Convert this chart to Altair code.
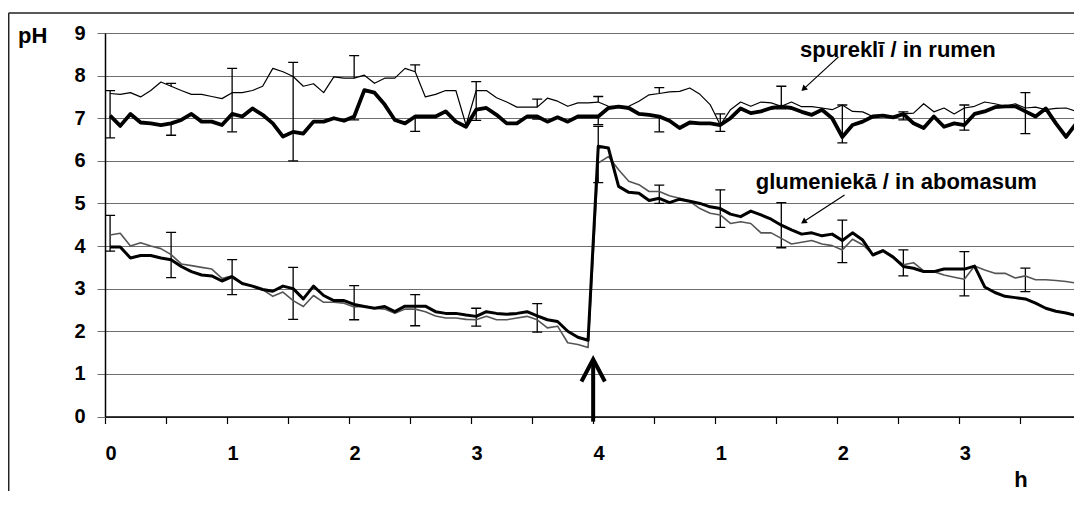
import altair as alt
import pandas as pd

# ---------------- data ----------------
x_tick_values = [k * 0.5 for k in range(17)]          # hours, ticks every 30 min
x_label_text = ["0", "1", "2", "3", "4", "1", "2", "3", "4"]
y_tick_values = list(range(10))
x_visible_max = 7.94                                    # the figure is cropped just before 8 h

# 96 samples (5-min categories) over 8 hours
rumen_thin = [
    7.58, 7.56, 7.60, 7.50, 7.65, 7.85, 7.75, 7.65, 7.56, 7.56, 7.51, 7.46,
    7.60, 7.60, 7.65, 7.75, 8.17, 8.09, 7.98, 7.75, 7.81, 7.60, 7.97, 7.94,
    7.94, 8.01, 7.82, 7.94, 7.94, 8.17, 8.09, 7.50, 7.56, 7.65, 7.65, 6.84,
    7.65, 7.65, 7.48, 7.38, 7.26, 7.26, 7.26, 7.47, 7.40, 7.28, 7.36, 7.36,
    7.38, 7.28, 7.27, 7.28, 7.40, 7.55, 7.58, 7.62, 7.63, 7.71, 7.56, 7.32,
    6.84, 7.20, 7.38, 7.28, 7.38, 7.36, 7.28, 7.38, 7.27, 7.27, 7.24, 7.20,
    7.31, 7.16, 7.15, 7.04, 7.08, 7.04, 7.10, 7.12, 7.34, 7.15, 7.24, 7.10,
    7.24, 7.28, 7.38, 7.34, 7.28, 7.34, 7.24, 7.26, 7.20, 7.23, 7.24, 7.16,
]
rumen_thick = [
    7.06, 6.82, 7.10, 6.90, 6.88, 6.84, 6.88, 6.96, 7.10, 6.92, 6.92, 6.84,
    7.10, 7.04, 7.23, 7.08, 6.88, 6.57, 6.68, 6.64, 6.92, 6.92, 7.00, 6.94,
    7.04, 7.66, 7.60, 7.32, 6.96, 6.88, 7.04, 7.04, 7.04, 7.16, 6.92, 6.80,
    7.20, 7.24, 7.08, 6.88, 6.88, 7.04, 7.04, 6.92, 7.02, 6.92, 7.04, 7.04,
    7.04, 7.24, 7.27, 7.24, 7.10, 7.08, 7.04, 6.94, 6.77, 6.90, 6.88, 6.88,
    6.84, 7.00, 7.23, 7.12, 7.16, 7.24, 7.27, 7.24, 7.15, 7.08, 7.20, 7.00,
    6.56, 6.84, 6.92, 7.04, 7.06, 7.02, 7.10, 6.88, 6.77, 7.04, 6.80, 6.88,
    6.84, 7.10, 7.16, 7.26, 7.28, 7.28, 7.16, 7.04, 7.23, 6.88, 6.56, 6.88,
]
abom_thin = [
    4.26, 4.30, 4.00, 4.08, 4.00, 3.94, 3.80, 3.58, 3.54, 3.50, 3.46, 3.24,
    3.30, 3.12, 3.06, 2.98, 2.82, 2.92, 2.72, 2.58, 2.84, 2.68, 2.68, 2.66,
    2.57, 2.59, 2.54, 2.52, 2.42, 2.52, 2.52, 2.46, 2.36, 2.31, 2.31, 2.28,
    2.27, 2.35, 2.27, 2.27, 2.31, 2.35, 2.27, 2.08, 2.12, 1.73, 1.69, 1.62,
    5.95, 6.10, 5.79, 5.52, 5.44, 5.28, 5.28, 5.18, 5.12, 5.05, 4.88, 4.77,
    4.73, 4.53, 4.57, 4.53, 4.31, 4.31, 4.18, 4.05, 4.09, 4.13, 4.05, 4.01,
    3.91, 4.16, 4.03, 3.81, 3.91, 3.75, 3.56, 3.61, 3.42, 3.40, 3.32, 3.27,
    3.22, 3.53, 3.44, 3.36, 3.36, 3.25, 3.30, 3.21, 3.21, 3.19, 3.17, 3.13,
]
abom_thick = [
    3.98, 3.98, 3.72, 3.78, 3.78, 3.72, 3.68, 3.52, 3.40, 3.32, 3.30, 3.18,
    3.28, 3.12, 3.06, 2.98, 2.94, 3.06, 3.00, 2.76, 3.06, 2.84, 2.72, 2.72,
    2.63, 2.58, 2.54, 2.58, 2.46, 2.59, 2.59, 2.59, 2.46, 2.42, 2.42, 2.38,
    2.35, 2.46, 2.42, 2.40, 2.42, 2.46, 2.36, 2.27, 2.23, 2.00, 1.86, 1.79,
    6.34, 6.30, 5.40, 5.26, 5.24, 5.07, 5.12, 5.02, 5.10, 5.05, 5.00, 4.92,
    4.88, 4.75, 4.69, 4.82, 4.73, 4.63, 4.49, 4.38, 4.28, 4.31, 4.24, 4.28,
    4.13, 4.31, 4.14, 3.79, 3.89, 3.74, 3.52, 3.48, 3.40, 3.40, 3.46, 3.46,
    3.46, 3.53, 3.04, 2.91, 2.82, 2.79, 2.76, 2.66, 2.54, 2.47, 2.43, 2.37,
]

# error bars every 30 min (sample index)
err_index = list(range(0, 96, 6))
rumen_err_hi = [7.65, 7.82, 8.17, 8.31, 8.47, 8.25, 7.86, 7.45, 7.51, 7.72, 7.10, 7.75, 7.31, 7.15, 7.31, 7.60]
rumen_err_lo = [6.54, 6.60, 6.68, 6.00, 6.96, 6.69, 6.95, 6.98, 6.85, 6.68, 6.69, 7.22, 6.42, 6.96, 6.72, 6.64]
rumen_err_joined = [1, 0, 1, 1, 0, 0, 1, 0, 0, 0, 1, 1, 1, 1, 1, 1]
abom_err_hi = [4.72, 4.32, 3.68, 3.50, 3.07, 2.86, 2.54, 2.65, 6.81, 5.43, 5.32, 5.02, 4.61, 3.91, 3.87, 3.48]
abom_err_lo = [3.88, 3.26, 2.86, 2.28, 2.27, 2.13, 2.12, 1.98, 5.49, 5.00, 4.44, 3.96, 3.61, 3.30, 2.83, 2.93]

# annotations (hours, pH)
label_rumen = "spureklī / in rumen"
label_abom = "glumeniekā / in abomasum"
label_rumen_pos = (6.496, 8.43)
label_abom_pos = (6.484, 5.34)
arrow_rumen = (6.01, 8.44, 5.73, 7.70)
arrow_abom = (6.06, 5.20, 5.73, 4.58)
event_time = 4.0
event_arrow_y = (-0.12, 1.32)
event_head_x = [3.904, 4.0, 4.096]
event_head_y = [0.82, 1.34, 0.82]

FONT = "Liberation Sans"

# ---------------- frames ----------------
t = [(i + 0.5) / 12 for i in range(96)]


def series_df(vals):
    return pd.DataFrame({"t": t, "v": vals})


err_rows = []
cap_rows = []


def add_err(hi, lo, joined, upper, lower):
    for k, i in enumerate(err_index):
        ti = t[i]
        if joined[k]:
            err_rows.append({"t": ti, "v": lo[k], "v2": hi[k]})
        else:
            err_rows.append({"t": ti, "v": upper[i], "v2": hi[k]})
            err_rows.append({"t": ti, "v": lo[k], "v2": lower[i]})
        cap_rows.append({"t": ti, "v": hi[k]})
        cap_rows.append({"t": ti, "v": lo[k]})


add_err(rumen_err_hi, rumen_err_lo, rumen_err_joined, rumen_thin, rumen_thick)
add_err(abom_err_hi, abom_err_lo, [1] * len(err_index), abom_thin, abom_thick)
err_df = pd.DataFrame(err_rows)
cap_df = pd.DataFrame(cap_rows)

label_expr = (
    "datum.value % 1 == 0 ? " + str(x_label_text).replace("'", '"') + "[round(datum.value)] : ''"
)

x_enc = alt.X(
    "t:Q",
    scale=alt.Scale(domain=[0, x_visible_max], nice=False, zero=False),
    axis=alt.Axis(
        values=x_tick_values, labelExpr=label_expr, title=None, grid=False,
        domainColor="black", domainWidth=1.5, tickColor="black", tickWidth=1.2,
        tickSize=7, labelFont=FONT, labelFontSize=20, labelFontWeight="bold",
        labelColor="black", labelPadding=20, labelOffset=5.5, labelFlush=False,
        labelOverlap=False,
    ),
)
y_enc = alt.Y(
    "v:Q",
    scale=alt.Scale(domain=[0, 9], nice=False, zero=True),
    axis=alt.Axis(
        values=y_tick_values, title=None, grid=True, gridColor="#6e6e6e",
        gridWidth=1, tickColor="#6e6e6e", tickSize=8, domainColor="black",
        domainWidth=1.5, labelFont=FONT, labelFontSize=20, labelFontWeight="bold",
        labelColor="black", labelPadding=12,
    ),
)

base_x = alt.X("t:Q")
base_y = alt.Y("v:Q")

layers = []

# error bars
layers.append(
    alt.Chart(err_df).mark_rule(color="black", strokeWidth=1.3, clip=True).encode(
        x=x_enc, y=y_enc, y2="v2:Q"
    )
)
layers.append(
    alt.Chart(cap_df).mark_point(
        shape="M-1,0L1,0", size=100, filled=False, color="black", strokeWidth=1.3, opacity=1, clip=True
    ).encode(x=base_x, y=base_y)
)

# lines
layers.append(
    alt.Chart(series_df(rumen_thin)).mark_line(color="black", strokeWidth=1.2, strokeJoin="round", clip=True)
    .encode(x=base_x, y=base_y)
)
layers.append(
    alt.Chart(series_df(abom_thin)).mark_line(color="#555555", strokeWidth=1.6, strokeJoin="round", clip=True)
    .encode(x=base_x, y=base_y)
)
layers.append(
    alt.Chart(series_df(rumen_thick)).mark_line(color="black", strokeWidth=3.8, strokeJoin="round", clip=True)
    .encode(x=base_x, y=base_y)
)
layers.append(
    alt.Chart(series_df(abom_thick)).mark_line(color="black", strokeWidth=3.0, strokeJoin="round", clip=True)
    .encode(x=base_x, y=base_y)
)

# annotation arrows with labels
arrow_df = pd.DataFrame(
    [
        {"t": arrow_rumen[0], "v": arrow_rumen[1], "t2": arrow_rumen[2], "v2": arrow_rumen[3], "ang": 227.6},
        {"t": arrow_abom[0], "v": arrow_abom[1], "t2": arrow_abom[2], "v2": arrow_abom[3], "ang": 237.0},
    ]
)
layers.append(
    alt.Chart(arrow_df).mark_rule(color="black", strokeWidth=1.2).encode(
        x=base_x, y=base_y, x2="t2:Q", y2="v2:Q"
    )
)
layers.append(
    alt.Chart(arrow_df).mark_point(shape="triangle", filled=True, color="black", size=45, opacity=1).encode(
        x=alt.X("t2:Q"), y=alt.Y("v2:Q"), angle=alt.Angle("ang:Q", scale=None)
    )
)
text_df = pd.DataFrame(
    [
        {"t": label_rumen_pos[0], "v": label_rumen_pos[1], "txt": label_rumen},
        {"t": label_abom_pos[0], "v": label_abom_pos[1], "txt": label_abom},
    ]
)
layers.append(
    alt.Chart(text_df).mark_text(
        font=FONT, fontSize=22, fontWeight="bold", color="black", align="center", baseline="alphabetic"
    ).encode(x=base_x, y=base_y, text="txt:N")
)

# event arrow at 4 h
layers.append(
    alt.Chart(pd.DataFrame({"t": [event_time], "v": [event_arrow_y[0]], "v2": [event_arrow_y[1]]}))
    .mark_rule(color="black", strokeWidth=4)
    .encode(x=base_x, y=base_y, y2="v2:Q")
)
layers.append(
    alt.Chart(pd.DataFrame({"t": event_head_x, "v": event_head_y, "o": [0, 1, 2]}))
    .mark_line(color="black", strokeWidth=4, strokeJoin="miter", strokeCap="butt")
    .encode(x=base_x, y=base_y, order="o:Q")
)

# axis titles and outer frame
one = pd.DataFrame({"a": [0]})
layers.append(
    alt.Chart(one).mark_text(font=FONT, fontSize=22, fontWeight="bold", color="black",
                             align="left", baseline="alphabetic", text="pH")
    .encode(x=alt.value(-87), y=alt.value(10))
)
layers.append(
    alt.Chart(one).mark_text(font=FONT, fontSize=22, fontWeight="bold", color="black",
                             align="center", baseline="alphabetic", text="h")
    .encode(x=alt.value(916), y=alt.value(454))
)
layers.append(
    alt.Chart(one).mark_rule(color="#222222", strokeWidth=1.5)
    .encode(x=alt.value(-96.3), x2=alt.value(990), y=alt.value(-20))
)
layers.append(
    alt.Chart(one).mark_rule(color="#222222", strokeWidth=1.5)
    .encode(x=alt.value(-96.3), y=alt.value(-20), y2=alt.value(460))
)

chart = (
    alt.layer(*layers)
    .properties(
        width=969,
        height=383.5,
        autosize=alt.AutoSizeParams(type="none"),
        padding={"left": 97, "top": 25, "right": 0, "bottom": 74},
        background="white",
    )
    .configure_view(stroke=None)
)

chart.save("out.html", embed_options={"renderer": "svg", "actions": False})
